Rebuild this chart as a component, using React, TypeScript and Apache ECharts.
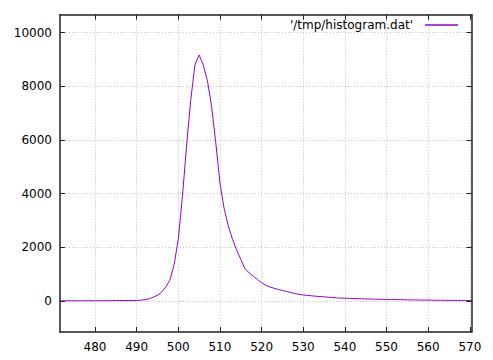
import React, { useEffect, useRef } from "react";
import * as echarts from "echarts";

// histogram bins: x from 471 to 571, step 1
const BIN_START = 471;
const COUNTS = [
  5, 3, 4, 6, 5, 4, 6, 7, 5, 6, // 471-480
  8, 7, 9, 10, 11, 12, 13, 14, 15, 18, // 481-490
  25, 45, 80, 140, 210, 330, 520, 780, 1350, 2300, // 491-500
  3900, 5800, 7500, 8800, 9170, 8800, 8200, 7250, 5900, 4400, // 501-510
  3450, 2800, 2300, 1900, 1550, 1200, 1050, 920, 800, 680, // 511-520
  580, 520, 470, 430, 385, 350, 310, 275, 245, 220, // 521-530
  205, 190, 175, 160, 150, 140, 125, 110, 105, 100, // 531-540
  95, 90, 85, 80, 75, 70, 66, 62, 58, 55, // 541-550
  52, 48, 45, 42, 40, 37, 34, 32, 30, 28, // 551-560
  26, 24, 22, 21, 20, 18, 17, 16, 15, 14, // 561-570
  13, // 571
];
const X_TICKS = [480, 490, 500, 510, 520, 530, 540, 550, 560, 570];
const Y_TICKS = [0, 2000, 4000, 6000, 8000, 10000];
const SERIES_NAME = "'/tmp/histogram.dat'";

const X_MIN = 471.6;
const X_MAX = 570.4;
const Y_MIN = -1160;
const Y_MAX = 10670;

export default function App() {
  const ref = useRef<HTMLDivElement>(null);
  useEffect(() => {
    if (!ref.current) return;
    const chart = echarts.init(ref.current, undefined, { renderer: "svg" });
    const data = COUNTS.map((c, i) => [BIN_START + i, c]);
    const font = "DejaVu Sans";
    const borderColor = "#222";
    const gridLine = { show: true, lineStyle: { color: "#c4c4c4", width: 1, type: [1, 2] as any } };
    const tick = { show: true, inside: true, length: 5, lineStyle: { color: borderColor, width: 1 } };
    const axisLine = { show: true, onZero: false, lineStyle: { color: borderColor, width: 1.5 } };
    const fmt = (v: number) => String(v);
    chart.setOption({
      animation: false,
      backgroundColor: "#ffffff",
      textStyle: { fontFamily: font },
      grid: { left: 60, right: 21.5, top: 14.7, bottom: 28, containLabel: false },
      legend: {
        data: [SERIES_NAME],
        right: 30,
        top: 14,
        align: "right",
        icon: "rect",
        itemWidth: 33,
        itemHeight: 1.5,
        textStyle: { fontFamily: font, fontSize: 12, color: "#000", padding: [0, 7, 0, 0] },
      },
      xAxis: [
        {
          type: "value",
          min: X_MIN,
          max: X_MAX,
          position: "bottom",
          axisLine,
          axisTick: { ...tick, customValues: X_TICKS },
          axisLabel: { customValues: X_TICKS, formatter: fmt, color: "#000", fontSize: 12, fontFamily: font, margin: 9 },
          splitLine: gridLine,
        },
        {
          type: "value",
          min: X_MIN,
          max: X_MAX,
          position: "top",
          axisLine,
          axisTick: { ...tick, customValues: X_TICKS },
          axisLabel: { show: false },
          splitLine: { show: false },
        },
      ],
      yAxis: [
        {
          type: "value",
          min: Y_MIN,
          max: Y_MAX,
          position: "left",
          axisLine,
          axisTick: { ...tick, customValues: Y_TICKS },
          axisLabel: { customValues: Y_TICKS, formatter: fmt, color: "#000", fontSize: 12, fontFamily: font, margin: 8 },
          splitLine: gridLine,
        },
        {
          type: "value",
          min: Y_MIN,
          max: Y_MAX,
          position: "right",
          axisLine,
          axisTick: { ...tick, customValues: Y_TICKS },
          axisLabel: { show: false },
          splitLine: { show: false },
        },
      ],
      series: [
        {
          name: SERIES_NAME,
          type: "line",
          data,
          xAxisIndex: 0,
          yAxisIndex: 0,
          showSymbol: false,
          symbol: "none",
          clip: true,
          lineStyle: { color: "#9400d3", width: 1 },
          itemStyle: { color: "#9400d3" },
        },
      ],
    });
    return () => chart.dispose();
  }, []);
  return <div ref={ref} style={{ width: 493, height: 360, position: "fixed", left: 0, top: 0 }} />;
}
